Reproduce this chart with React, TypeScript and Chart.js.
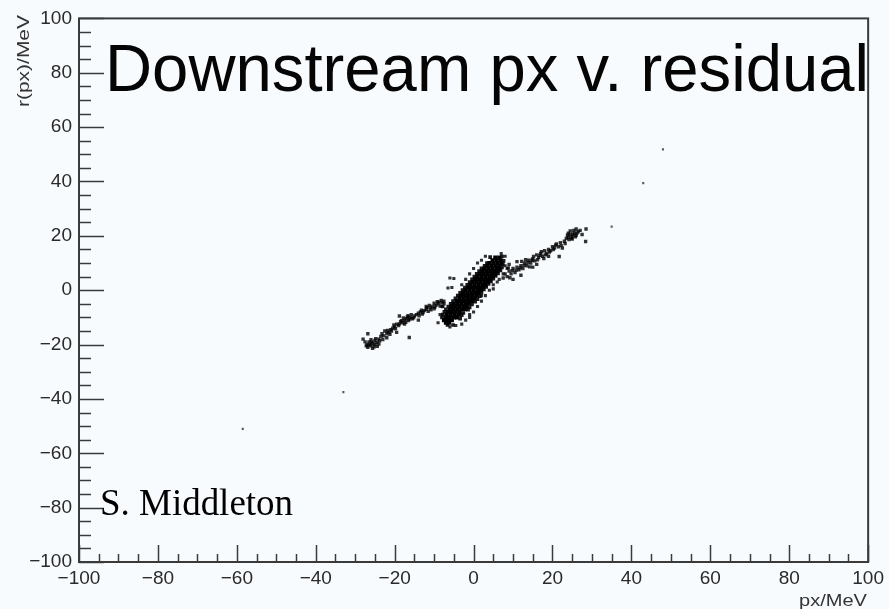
import React, { useEffect, useRef } from 'react';
import { Chart, registerables } from 'chart.js';

Chart.register(...registerables);

// ---- data (MeV) ----
const xTickValues = [-100, -80, -60, -40, -20, 0, 20, 40, 60, 80, 100];
const yTickValues = [-100, -80, -60, -40, -20, 0, 20, 40, 60, 80, 100];

// dense central blob
const coreBlob: [number, number][] = [
  [-7, -12], [-6.2, -12],
  [-7.5, -11], [-6.5, -11], [-5.5, -11],
  [-7, -10], [-6, -10], [-5, -10], [-4.2, -10],
  [-6.8, -9], [-5.8, -9], [-4.8, -9], [-3.8, -9],
  [-6.5, -8], [-5.5, -8], [-4.5, -8], [-3.5, -8],
  [-6, -7], [-5, -7], [-4, -7], [-3, -7], [-2.2, -7],
  [-5.5, -6], [-4.5, -6], [-3.5, -6], [-2.5, -6], [-1.8, -6],
  [-5, -5], [-4, -5], [-3, -5], [-2, -5], [-1.2, -5],
  [-4.2, -4], [-3.2, -4], [-2.2, -4], [-1.2, -4], [-0.4, -4],
  [-3.6, -3], [-2.6, -3], [-1.6, -3], [-0.6, -3], [0.2, -3],
  [-3.2, -2], [-2.2, -2], [-1.2, -2], [-0.2, -2], [0.8, -2],
  [-2.6, -1], [-1.6, -1], [-0.6, -1], [0.4, -1], [1.2, -1],
  [-2, 0], [-1, 0], [0, 0], [1, 0], [1.8, 0],
  [-1.4, 1], [-0.4, 1], [0.6, 1], [1.6, 1], [2.4, 1],
  [-0.8, 2], [0.2, 2], [1.2, 2], [2.2, 2], [3, 2],
  [-0.2, 3], [0.8, 3], [1.8, 3], [2.8, 3], [3.6, 3],
  [0.4, 4], [1.4, 4], [2.4, 4], [3.4, 4], [4.2, 4],
  [1, 5], [2, 5], [3, 5], [4, 5], [4.8, 5],
  [1.6, 6], [2.6, 6], [3.6, 6], [4.6, 6], [5.4, 6],
  [2.2, 7], [3.2, 7], [4.2, 7], [5.2, 7], [6, 7],
  [2.8, 8], [3.8, 8], [4.8, 8], [5.8, 8], [6.5, 8],
  [3.5, 9], [4.5, 9], [5.5, 9], [6.5, 9],
  [4, 10], [5, 10], [6, 10], [7, 10],
  [4.8, 11], [5.8, 11], [6.8, 11],
  [5.5, 12], [6.5, 12],
];

// ragged edge of the blob
const coreEdge: [number, number][] = [
  [-8, -10], [-3.4, -10.5], [-7.8, -9], [-3, -9.2], [-7.4, -8], [-2.6, -8.4],
  [-7, -7], [-1.4, -7.2], [-6.4, -6], [-1, -6.3], [-5.8, -5], [-0.4, -5.2],
  [-5.2, -4], [0.4, -4.2], [-4.6, -3], [1, -3.3], [-4, -2], [1.6, -2.2],
  [-3.4, -1], [2, -0.8], [-2.8, 0], [2.6, 0.3], [-2.2, 1], [3.2, 1.2],
  [-1.6, 2], [3.8, 2.3], [-1, 3], [4.4, 3.2], [-0.4, 4], [5, 4.2],
  [0.2, 5], [5.6, 5.3], [0.8, 6], [6.2, 6.2], [1.4, 7], [6.8, 7.3],
  [2, 8], [7.2, 8.4], [2.8, 9], [7.4, 9.6], [3.4, 10], [7.6, 10.8],
  [-5.2, -12.8], [-6.6, -12.8], [4.2, 12.2], [7.2, 12.4],
];

// scattered points around the blob
const blobFringe: [number, number][] = [
  [-8.5, -9], [-8, -6], [-7.5, -4], [-6.5, 0.8], [-5.5, 1], [-5, 4.3], [-6, 4.5],
  [-3, 2], [-2, 4], [-1, 6], [0, 8], [1, 10], [2, 11], [3, 12.5],
  [8, 9], [8.5, 8], [7.5, 6], [6.5, 4], [5, 2], [4, 0], [3, -2], [2, -4],
  [1, -6], [0, -8], [-1, -10], [-2, -11], [-3, -12.5], [-4.5, -13], [-6, -13.5],
  [-1, -9], [2, -2], [5, 0.5], [6, 3], [-9, -12], [8, 12.5], [7, 13.5],
];

const leftArm: [number, number][] = [
  [-27, -20], [-26.5, -19], [-26, -20.5], [-25.5, -19.5], [-25, -18.5], [-26, -18.2],
  [-27.5, -19], [-24.5, -19.2], [-26.8, -21], [-25.2, -20.8], [-24, -18], [-23.5, -17],
  [-23, -18.2], [-22, -16], [-22.5, -15], [-21.5, -15.5], [-21, -14.5], [-20, -13.5],
  [-19.5, -12.5], [-19, -13], [-18.5, -11.5], [-18, -12], [-17.5, -11], [-17, -10.5],
  [-16.5, -11.2], [-16, -10], [-15.5, -10.5], [-15, -9.5], [-16.8, -9.8], [-17.5, -12.5],
  [-14.5, -9], [-14, -8.5], [-13.5, -8], [-13, -8.8], [-12.5, -7.5], [-12, -7],
  [-11.5, -7.8], [-11, -6.5], [-10.5, -6], [-10, -6.8], [-9.5, -5.5], [-9, -5],
  [-8.5, -5.8], [-8, -4.5], [-7.5, -5], [-10, -4.8], [-12, -6], [-20.5, -14],
  [-24, -19.8], [-22, -17.5], [-16.3, -17.4], [-26.8, -16], [-18.8, -9.5], [-28, -18],
  [-19.5, -15.5], [-14, -11],
  [-26.2, -19.8], [-25.8, -19], [-26.5, -20.2], [-25, -20], [-27.2, -20.5], [-24.8, -17.8],
  [-23.8, -18.6], [-22.8, -16.8], [-21.8, -14.8], [-20.8, -15], [-19.8, -14.2], [-18.2, -11.2],
  [-17.2, -11.8], [-16.2, -10.6], [-15.2, -10.2], [-17.8, -10.2], [-16.6, -9.4], [-13.8, -9.4],
  [-12.8, -8.2], [-11.8, -6.4], [-10.8, -7.2], [-9.8, -6.2], [-8.8, -4.4], [-7.8, -6],
  [-8.2, -3.8], [-9.2, -4.2], [-11.2, -5.6], [-13.2, -7.4], [-15.8, -9], [-18.8, -12.4],
  [-20.2, -12.8], [-21.2, -16.2], [-23.2, -16], [-24.4, -20.6], [-25.6, -21.4],
];

const rightArm: [number, number][] = [
  [7.5, 4.5], [8, 6], [8.5, 5], [9, 7], [9.5, 6], [10, 8], [10.5, 6.5], [11, 8.5],
  [11.5, 7.5], [12, 9], [12.5, 8], [13, 10], [13.5, 9], [14, 11], [14.5, 10], [15, 11.5],
  [15.5, 10.8], [16, 13], [16.5, 12], [17, 13.5], [17.5, 12.5], [18, 14.5], [18.5, 13.5],
  [19, 15], [19.5, 14.5], [20, 16], [20.5, 15.5], [21, 17], [21.5, 16], [22, 17.5],
  [23, 18], [23.5, 19], [24, 19.5], [24.5, 20.5], [25, 19.8], [25.5, 21], [26, 20.2],
  [26.5, 21.5], [25, 18.8], [24.5, 21.8], [27, 22], [27.5, 20.5], [26, 22.5],
  [28.4, 17.9], [21.7, 12.4], [10, 4], [12, 5.5], [15, 8.5], [9, 9.5], [11, 10.5],
  [16, 9.5], [19, 12.5], [22.5, 15.5], [28.5, 22.5],
  [9.8, 7.2], [10.8, 7.4], [11.8, 8.2], [12.8, 9.2], [13.2, 11.2], [13.8, 10.2], [14.8, 11],
  [15.2, 12.4], [16.2, 11.2], [16.8, 12.8], [17.2, 14.2], [18.2, 13], [19.2, 14], [20.2, 15],
  [20.8, 16.6], [22.2, 16.4], [23.2, 17.2], [23.8, 20.2], [24.2, 18.6], [24.8, 19.2],
  [25.2, 20.6], [25.8, 19.6], [26.2, 21], [24, 21], [25.4, 22], [12.2, 10.6], [14.2, 8.6],
  [17.8, 11.6], [8.8, 8.2], [9.2, 4.6],
];

const outliers: [number, number][] = [
  [-58.5, -51], [-33, -37.5], [35, 23.4], [43, 39.4], [48, 51.8],
];

const TITLE = 'Downstream px v. residual';
const AUTHOR = 'S. Middleton';
const X_TITLE = 'px/MeV';
const Y_TITLE = 'r(px)/MeV';

const SANS = '"Liberation Sans", Arial, Helvetica, sans-serif';
const SERIF = '"Liberation Serif", "Times New Roman", serif';

const toPts = (arr: [number, number][]) => arr.map(([x, y]) => ({ x, y }));
const fmt = (v: number) => (v < 0 ? '\u2212' + Math.abs(v) : String(v));

function fitText(
  ctx: CanvasRenderingContext2D,
  text: string,
  x: number,
  y: number,
  width: number,
  font: string,
  rotate = 0,
  align: CanvasTextAlign = 'left',
  color = '#000'
) {
  ctx.save();
  ctx.font = font;
  const w = ctx.measureText(text).width;
  ctx.translate(x, y);
  if (rotate) ctx.rotate(rotate);
  ctx.scale(width / w, 1);
  ctx.textAlign = align;
  ctx.textBaseline = 'alphabetic';
  ctx.fillStyle = color;
  ctx.fillText(text, 0, 0);
  ctx.restore();
}

const rootStyle = {
  id: 'rootStyle',
  beforeDraw(chart: any) {
    const { ctx, width, height } = chart;
    ctx.save();
    ctx.fillStyle = '#f8fbfe';
    ctx.fillRect(0, 0, width, height);
    ctx.restore();
  },
  afterDraw(chart: any) {
    const { ctx, chartArea: a, scales } = chart;
    const xs = scales.x;
    const ys = scales.y;
    ctx.save();
    ctx.strokeStyle = '#3a3a3a';
    ctx.lineWidth = 1.5;
    for (let v = -100; v <= 100; v += 5) {
      const major = v % 20 === 0;
      const px = Math.round(xs.getPixelForValue(v)) + 0.5;
      ctx.beginPath();
      ctx.moveTo(px, a.bottom);
      ctx.lineTo(px, a.bottom - (major ? 17 : 8));
      ctx.stroke();
      const py = Math.round(ys.getPixelForValue(v)) + 0.5;
      ctx.beginPath();
      ctx.moveTo(a.left, py);
      ctx.lineTo(a.left + (major ? 25 : 12), py);
      ctx.stroke();
    }
    ctx.lineWidth = 2;
    ctx.strokeStyle = '#3a3a3a';
    ctx.strokeRect(a.left, a.top, a.right - a.left, a.bottom - a.top);
    ctx.restore();

    fitText(ctx, TITLE, 105, 91, 764, `66px ${SANS}`, 0, 'left', '#050505');
    fitText(ctx, AUTHOR, 100, 515, 193, `37px ${SERIF}`);
    fitText(ctx, X_TITLE, 867, 606, 68, `17px ${SANS}`, 0, 'right', '#333');
    fitText(ctx, Y_TITLE, 29, 15, 92, `16px ${SANS}`, -Math.PI / 2, 'right', '#333');
  },
};

export default function App() {
  const ref = useRef<HTMLCanvasElement | null>(null);

  useEffect(() => {
    if (!ref.current) return;
    const pointDs = (label: string, data: [number, number][], r: number, color: string) => ({
      label,
      data: toPts(data),
      pointStyle: 'rect' as const,
      pointRadius: r,
      pointHoverRadius: r,
      backgroundColor: color,
      borderWidth: 0,
      showLine: false,
    });
    const chart = new Chart(ref.current, {
      type: 'scatter',
      data: {
        datasets: [
          pointDs('outliers', outliers, 1.5, 'rgba(50,50,50,0.8)'),
          pointDs('left arm', leftArm, 2.4, 'rgba(0,0,0,0.8)'),
          pointDs('right arm', rightArm, 2.4, 'rgba(0,0,0,0.8)'),
          pointDs('fringe', blobFringe, 2.2, 'rgba(0,0,0,0.8)'),
          pointDs('edge', coreEdge, 2.6, 'rgba(0,0,0,0.9)'),
          pointDs('core', coreBlob, 2.9, '#000'),
        ],
      },
      options: {
        responsive: false,
        animation: false,
        events: [],
        layout: { padding: { top: 14, right: 17, left: 0, bottom: 0 } },
        plugins: { legend: { display: false }, title: { display: false }, tooltip: { enabled: false } },
        scales: {
          x: {
            type: 'linear',
            min: -100,
            max: 100,
            afterBuildTicks: (s: any) => {
              s.ticks = xTickValues.map((value) => ({ value }));
            },
            afterFit: (s: any) => {
              s.height = 47;
            },
            ticks: {
              autoSkip: false,
              maxRotation: 0,
              padding: 5,
              color: '#2a2a2a',
              font: { family: SANS, size: 19 },
              callback: (v: any) => fmt(Number(v)),
            },
            grid: { display: false, drawTicks: false },
            border: { display: false },
          },
          y: {
            type: 'linear',
            min: -100,
            max: 100,
            afterBuildTicks: (s: any) => {
              s.ticks = yTickValues.map((value) => ({ value }));
            },
            afterFit: (s: any) => {
              s.width = 79;
            },
            ticks: {
              autoSkip: false,
              padding: 7,
              color: '#2a2a2a',
              font: { family: SANS, size: 19 },
              callback: (v: any) => fmt(Number(v)),
            },
            grid: { display: false, drawTicks: false },
            border: { display: false },
          },
        },
      },
      plugins: [rootStyle],
    });
    return () => chart.destroy();
  }, []);

  return (
    <div style={{ position: 'fixed', left: 0, top: 0, width: 889, height: 609, background: '#f8fbfe' }}>
      <canvas ref={ref} width={889} height={609} style={{ display: 'block' }} />
    </div>
  );
}
